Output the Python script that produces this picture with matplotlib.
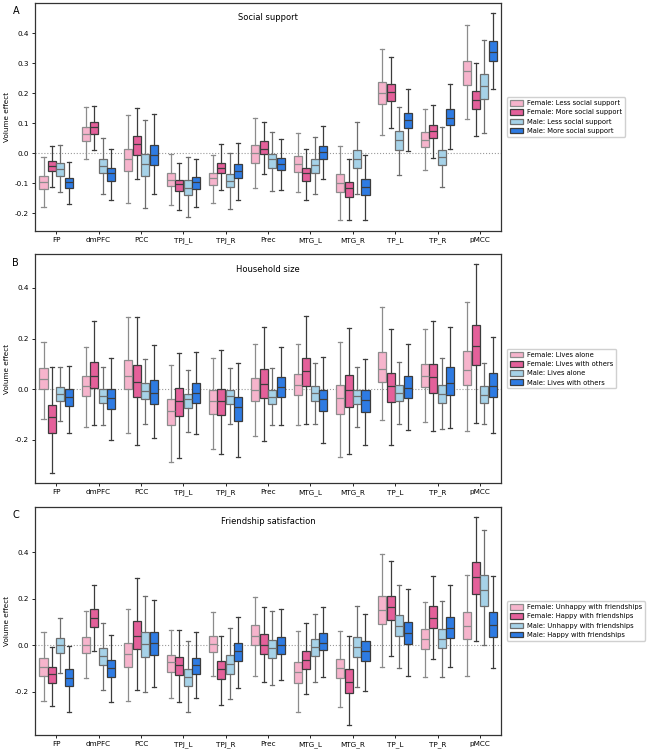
import matplotlib
matplotlib.use("Agg")
import matplotlib.pyplot as plt
import numpy as np

regions = ["FP", "dmPFC", "PCC", "TPJ_L", "TPJ_R", "Prec", "MTG_L", "MTG_R", "TP_L", "TP_R", "pMCC"]

titles = ["Social support", "Household size", "Friendship satisfaction"]
panel_letters = ["A", "B", "C"]
legend_labels = [
    ["Female: Less social support", "Female: More social support", "Male: Less social support", "Male: More social support"],
    ["Female: Lives alone", "Female: Lives with others", "Male: Lives alone", "Male: Lives with others"],
    ["Female: Unhappy with friendships", "Female: Happy with friendships", "Male: Unhappy with friendships", "Male: Happy with friendships"],
]

# Box statistics per region: [whisker_low, q1, median, q3, whisker_high]
# Panel A: Social support
A_f_less = [[-0.181, -0.119, -0.097, -0.076, -0.014], [-0.021, 0.041, 0.064, 0.086, 0.152], [-0.168, -0.061, -0.021, 0.014, 0.127],
            [-0.172, -0.109, -0.090, -0.067, -0.004], [-0.167, -0.106, -0.084, -0.066, -0.007], [-0.117, -0.034, 0.001, 0.028, 0.117],
            [-0.131, -0.063, -0.036, -0.010, 0.067], [-0.223, -0.131, -0.099, -0.070, 0.023], [0.059, 0.162, 0.201, 0.238, 0.346],
            [-0.056, 0.020, 0.045, 0.071, 0.147], [0.112, 0.228, 0.272, 0.308, 0.428]]
A_f_more = [[-0.112, -0.061, -0.042, -0.028, 0.025], [0.009, 0.065, 0.087, 0.103, 0.156], [-0.088, -0.008, 0.029, 0.056, 0.149],
            [-0.189, -0.126, -0.102, -0.090, -0.034], [-0.123, -0.067, -0.049, -0.032, 0.029], [-0.069, -0.004, 0.015, 0.041, 0.105],
            [-0.158, -0.093, -0.067, -0.051, 0.013], [-0.223, -0.147, -0.118, -0.095, -0.021], [0.083, 0.172, 0.202, 0.231, 0.320],
            [-0.018, 0.049, 0.073, 0.094, 0.159], [0.056, 0.147, 0.178, 0.208, 0.301]]
A_m_less = [[-0.131, -0.075, -0.054, -0.034, 0.028], [-0.136, -0.067, -0.042, -0.021, 0.049], [-0.182, -0.076, -0.036, -0.002, 0.109],
            [-0.213, -0.140, -0.115, -0.090, -0.012], [-0.185, -0.114, -0.092, -0.070, 0.000], [-0.126, -0.049, -0.021, -0.002, 0.069],
            [-0.138, -0.067, -0.040, -0.019, 0.054], [-0.136, -0.051, -0.019, 0.011, 0.103], [-0.072, 0.010, 0.042, 0.074, 0.154],
            [-0.113, -0.041, -0.013, 0.010, 0.087], [0.067, 0.180, 0.222, 0.263, 0.378]]
A_m_more = [[-0.169, -0.118, -0.096, -0.082, -0.031], [-0.156, -0.094, -0.065, -0.050, 0.014], [-0.137, -0.041, -0.008, 0.028, 0.130],
            [-0.180, -0.120, -0.097, -0.080, -0.021], [-0.157, -0.083, -0.061, -0.036, 0.032], [-0.123, -0.057, -0.036, -0.015, 0.046],
            [-0.087, -0.021, 0.002, 0.025, 0.091], [-0.222, -0.141, -0.113, -0.086, -0.008], [0.006, 0.084, 0.109, 0.135, 0.213],
            [0.012, 0.093, 0.118, 0.148, 0.231], [0.215, 0.307, 0.338, 0.372, 0.467]]

# Panel B: Household size
B_f_less = [[-0.118, 0.003, 0.042, 0.083, 0.188], [-0.149, -0.028, 0.013, 0.054, 0.166], [-0.171, 0.000, 0.054, 0.114, 0.284],
            [-0.289, -0.142, -0.087, -0.037, 0.096], [-0.237, -0.099, -0.046, -0.003, 0.125], [-0.183, -0.047, -0.001, 0.045, 0.178],
            [-0.143, -0.022, 0.017, 0.059, 0.179], [-0.268, -0.097, -0.036, 0.016, 0.188], [-0.122, 0.028, 0.079, 0.146, 0.324],
            [-0.128, 0.009, 0.054, 0.101, 0.238], [-0.163, 0.018, 0.076, 0.150, 0.343]]
B_f_more = [[-0.329, -0.171, -0.111, -0.062, 0.089], [-0.141, 0.004, 0.051, 0.107, 0.268], [-0.220, -0.029, 0.030, 0.097, 0.287],
            [-0.270, -0.104, -0.047, 0.004, 0.142], [-0.254, -0.101, -0.046, 0.003, 0.154], [-0.204, -0.036, 0.020, 0.080, 0.245],
            [-0.138, 0.012, 0.071, 0.125, 0.289], [-0.257, -0.071, -0.003, 0.055, 0.243], [-0.221, -0.051, 0.011, 0.063, 0.238],
            [-0.164, -0.013, 0.047, 0.101, 0.271], [-0.132, 0.095, 0.171, 0.253, 0.493]]
B_m_less = [[-0.125, -0.045, -0.018, 0.009, 0.087], [-0.141, -0.055, -0.026, 0.000, 0.088], [-0.138, -0.038, -0.007, 0.024, 0.121],
            [-0.168, -0.075, -0.039, -0.018, 0.075], [-0.137, -0.058, -0.026, -0.001, 0.084], [-0.141, -0.058, -0.029, -0.001, 0.082],
            [-0.136, -0.046, -0.013, 0.012, 0.104], [-0.147, -0.059, -0.026, -0.001, 0.088], [-0.138, -0.045, -0.016, 0.018, 0.109],
            [-0.157, -0.055, -0.020, 0.016, 0.122], [-0.138, -0.053, -0.024, 0.011, 0.103]]
B_m_more = [[-0.171, -0.068, -0.030, 0.000, 0.093], [-0.199, -0.078, -0.036, 0.000, 0.124], [-0.191, -0.059, -0.013, 0.036, 0.175],
            [-0.178, -0.055, -0.016, 0.026, 0.147], [-0.266, -0.126, -0.071, -0.029, 0.105], [-0.141, -0.030, 0.008, 0.049, 0.168],
            [-0.211, -0.084, -0.038, -0.001, 0.126], [-0.220, -0.089, -0.043, -0.001, 0.121], [-0.161, -0.036, 0.005, 0.051, 0.179],
            [-0.154, -0.022, 0.025, 0.086, 0.246], [-0.174, -0.032, 0.014, 0.063, 0.208]]

# Panel C: Friendship satisfaction
C_f_less = [[-0.241, -0.131, -0.093, -0.056, 0.056], [-0.141, -0.033, 0.000, 0.037, 0.147], [-0.241, -0.091, -0.036, 0.011, 0.156],
            [-0.226, -0.116, -0.073, -0.043, 0.067], [-0.130, -0.030, 0.006, 0.040, 0.144], [-0.131, 0.000, 0.041, 0.086, 0.207],
            [-0.286, -0.160, -0.113, -0.073, 0.060], [-0.264, -0.141, -0.099, -0.060, 0.061], [-0.091, 0.091, 0.150, 0.211, 0.394],
            [-0.136, -0.014, 0.026, 0.071, 0.187], [-0.130, 0.026, 0.084, 0.141, 0.303]]
C_f_more = [[-0.259, -0.160, -0.123, -0.093, -0.006], [-0.024, 0.080, 0.117, 0.154, 0.259], [-0.191, -0.014, 0.040, 0.106, 0.287],
            [-0.244, -0.129, -0.086, -0.051, 0.064], [-0.256, -0.143, -0.101, -0.067, 0.039], [-0.159, -0.037, 0.003, 0.047, 0.164],
            [-0.210, -0.101, -0.063, -0.024, 0.096], [-0.340, -0.206, -0.159, -0.103, 0.039], [-0.046, 0.107, 0.164, 0.210, 0.360],
            [-0.060, 0.073, 0.119, 0.167, 0.299], [0.019, 0.220, 0.293, 0.356, 0.553]]
C_m_less = [[-0.117, -0.031, 0.000, 0.031, 0.116], [-0.191, -0.086, -0.046, -0.013, 0.096], [-0.200, -0.049, 0.006, 0.056, 0.211],
            [-0.286, -0.174, -0.136, -0.100, 0.020], [-0.230, -0.123, -0.079, -0.041, 0.076], [-0.169, -0.053, -0.010, 0.023, 0.149],
            [-0.157, -0.047, -0.007, 0.026, 0.136], [-0.180, -0.051, -0.007, 0.036, 0.167], [-0.097, 0.039, 0.083, 0.131, 0.261],
            [-0.136, -0.011, 0.029, 0.069, 0.191], [0.001, 0.171, 0.236, 0.301, 0.494]]
C_m_more = [[-0.287, -0.176, -0.140, -0.101, -0.001], [-0.244, -0.134, -0.097, -0.061, 0.043], [-0.180, -0.041, 0.011, 0.056, 0.196],
            [-0.226, -0.124, -0.084, -0.053, 0.056], [-0.184, -0.069, -0.026, 0.009, 0.120], [-0.150, -0.039, 0.000, 0.037, 0.154],
            [-0.136, -0.021, 0.011, 0.054, 0.166], [-0.196, -0.069, -0.026, 0.019, 0.136], [-0.133, 0.004, 0.051, 0.100, 0.240],
            [-0.091, 0.030, 0.073, 0.121, 0.259], [-0.099, 0.037, 0.087, 0.141, 0.299]]

panels = [
    [A_f_less, A_f_more, A_m_less, A_m_more],
    [B_f_less, B_f_more, B_m_less, B_m_more],
    [C_f_less, C_f_more, C_m_less, C_m_more],
]

ylims = [(-0.26, 0.50), (-0.37, 0.533), (-0.385, 0.594)]
yticks = [[-0.2, -0.1, 0.0, 0.1, 0.2, 0.3, 0.4], [-0.2, 0.0, 0.2, 0.4], [-0.2, 0.0, 0.2, 0.4]]

face_colors = ["#F6B4CC", "#E4609A", "#A6D2E8", "#2E7BE3"]
edge_colors = ["#8C8C8C", "#3C3C3C", "#6E6E6E", "#3C3C3C"]

axes_rects = [
    (0.0534, 0.692, 0.7104, 0.304),
    (0.0534, 0.356, 0.7104, 0.305),
    (0.0534, 0.020, 0.7104, 0.304),
]

fig = plt.figure(figsize=(6.56, 7.5), dpi=100)

fs = 5.2
box_w = 0.19
offsets = [-0.3, -0.1, 0.1, 0.3]
x = np.arange(len(regions))

for p in range(3):
    ax = fig.add_axes(axes_rects[p])
    handles = []
    for h in range(4):
        stats = []
        for r in range(len(regions)):
            lo, q1, med, q3, hi = panels[p][h][r]
            stats.append(dict(whislo=lo, q1=q1, med=med, q3=q3, whishi=hi, fliers=[]))
        ec = edge_colors[h]
        bp = ax.bxp(stats, positions=x + offsets[h], widths=box_w, capwidths=box_w * 0.5,
                    patch_artist=True, showfliers=False, manage_ticks=False,
                    boxprops=dict(facecolor=face_colors[h], edgecolor=ec, linewidth=0.9),
                    whiskerprops=dict(color=ec, linewidth=0.9),
                    capprops=dict(color=ec, linewidth=0.9),
                    medianprops=dict(color=ec, linewidth=0.9))
        handles.append(bp["boxes"][0])
    ax.axhline(0, color="#9a9a9a", linestyle=":", linewidth=0.8, zorder=0)
    ax.set_xlim(-0.5, len(regions) - 0.5)
    ax.set_ylim(*ylims[p])
    ax.set_xticks(x)
    ax.set_xticklabels(regions, fontsize=fs)
    ax.set_yticks(yticks[p])
    ax.set_yticklabels([f"{v:.1f}" for v in yticks[p]], fontsize=fs)
    ax.tick_params(length=2.5, width=0.6, pad=2)
    ax.set_ylabel("Volume effect", fontsize=fs, labelpad=3)
    for s in ax.spines.values():
        s.set_linewidth(0.9)
        s.set_color("#333333")
    ax.text(0.5, 0.935, titles[p], transform=ax.transAxes, ha="center", va="center", fontsize=6)
    ax.legend(handles, legend_labels[p], loc="center left", bbox_to_anchor=(1.005, 0.5),
              fontsize=4.9, frameon=True, handlelength=2.0, handleheight=0.9,
              borderpad=0.4, labelspacing=0.45, handletextpad=0.6, framealpha=1,
              edgecolor="#d0d0d0", fancybox=True)
    bb = axes_rects[p]
    fig.text(0.019, bb[1] + bb[3] - 0.011, panel_letters[p], fontsize=7, ha="left", va="center")

fig.savefig("out.png", dpi=100)
